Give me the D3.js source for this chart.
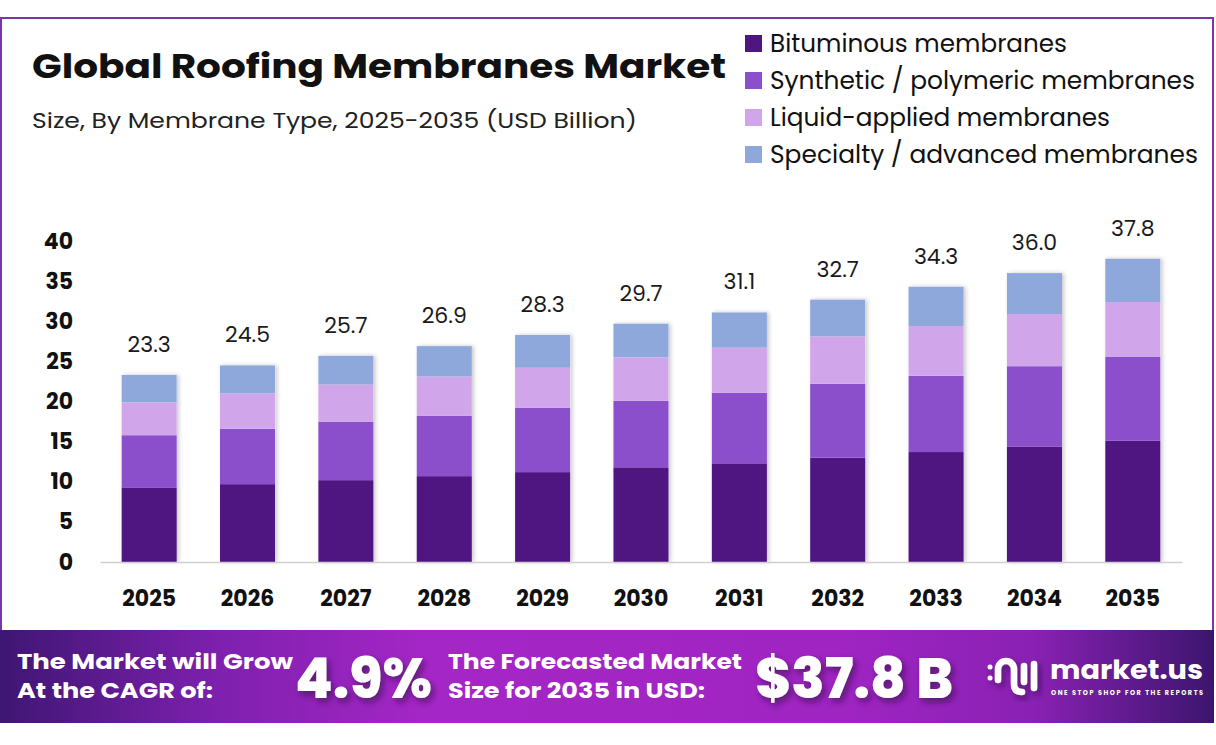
<!DOCTYPE html>
<html>
<head>
<meta charset="utf-8">
<script src="https://cdn.jsdelivr.net/npm/d3@7"></script>
<style>
  html, body { margin: 0; padding: 0; background: #fff; }
  svg { display: block; font-family: Poppins, Inter, "Open Sans", sans-serif; }
</style>
</head>
<body>
<div id="chart"></div>
<script>
// chart values
const years = ['2025', '2026', '2027', '2028', '2029', '2030', '2031', '2032', '2033', '2034', '2035'];
const bituminous = [9.3, 9.7, 10.2, 10.7, 11.2, 11.8, 12.3, 13.0, 13.7, 14.4, 15.1];
const synthetic = [6.5, 6.9, 7.3, 7.5, 8.0, 8.3, 8.8, 9.2, 9.5, 10.0, 10.5];
const liquid = [4.1, 4.4, 4.6, 4.9, 5.0, 5.4, 5.6, 5.9, 6.2, 6.5, 6.8];
const specialty = [3.4, 3.5, 3.6, 3.8, 4.1, 4.2, 4.4, 4.6, 4.9, 5.1, 5.4];
const totals = [23.3, 24.5, 25.7, 26.9, 28.3, 29.7, 31.1, 32.7, 34.3, 36.0, 37.8];
const seriesNames = ['Bituminous membranes', 'Synthetic / polymeric membranes', 'Liquid-applied membranes', 'Specialty / advanced membranes'];
const yTicks = [0, 5, 10, 15, 20, 25, 30, 35, 40];

const colors = ['#4f1580', '#8b4fcc', '#d1a5e9', '#8fa8db'];
const keys = ['bit', 'syn', 'liq', 'spe'];

const width = 1216, height = 745;

const svg = d3.select('#chart')
  .append('svg')
    .attr('width', width)
    .attr('height', height);

const defs = svg.append('defs');

const grad = defs.append('linearGradient')
  .attr('id', 'banner')
  .attr('x1', '0%').attr('x2', '100%').attr('y1', '0%').attr('y2', '0%');
[[0, '#3e1673'], [0.18, '#7e20ae'], [0.35, '#a526c6'], [0.7, '#9f24c2'], [0.85, '#8a21b4'], [1, '#3c156e']]
  .forEach(([o, c]) => grad.append('stop').attr('offset', o).attr('stop-color', c));

defs.append('filter')
  .attr('id', 'barShadow')
  .attr('x', '-20%').attr('width', '140%')
  .append('feDropShadow')
    .attr('dx', 2).attr('dy', 0).attr('stdDeviation', 2)
    .attr('flood-color', '#000').attr('flood-opacity', 0.22);

defs.append('filter')
  .attr('id', 'textShadow')
  .attr('x', '-10%').attr('width', '130%').attr('y', '-20%').attr('height', '150%')
  .append('feDropShadow')
    .attr('dx', 3).attr('dy', 4).attr('stdDeviation', 3)
    .attr('flood-color', '#2a0a40').attr('flood-opacity', 0.6);

// frame
svg.append('rect')
  .attr('x', 1).attr('y', 18)
  .attr('width', 1212).attr('height', 620)
  .attr('fill', '#fff')
  .attr('stroke', '#7c35a8')
  .attr('stroke-width', 2);

// title
svg.append('text')
  .attr('x', 32).attr('y', 78)
  .attr('font-size', 34).attr('font-weight', 700)
  .attr('fill', '#111')
  .attr('textLength', 694).attr('lengthAdjust', 'spacingAndGlyphs')
  .text('Global Roofing Membranes Market');

svg.append('text')
  .attr('x', 32).attr('y', 128)
  .attr('font-size', 22)
  .attr('fill', '#222')
  .attr('textLength', 605).attr('lengthAdjust', 'spacingAndGlyphs')
  .text('Size, By Membrane Type, 2025-2035 (USD Billion)');

// legend
const legendWidths = [297, 425, 340, 428];
const legend = svg.append('g');
seriesNames.forEach((name, i) => {
  const yb = 52 + i * 37;
  legend.append('rect')
    .attr('x', 745).attr('y', yb - 17)
    .attr('width', 17).attr('height', 17)
    .attr('fill', colors[i]);
  legend.append('text')
    .attr('x', 770).attr('y', yb)
    .attr('font-size', 24)
    .attr('fill', '#111')
    .attr('textLength', legendWidths[i]).attr('lengthAdjust', 'spacingAndGlyphs')
    .text(name);
});

// scales
const x = d3.scaleBand()
  .domain(years)
  .range([100, 1182])
  .paddingInner(0.44)
  .paddingOuter(0.22);

const y = d3.scaleLinear()
  .domain([0, 40])
  .range([562, 241]);

const rows = years.map((yr, i) => ({
  year: yr, bit: bituminous[i], syn: synthetic[i], liq: liquid[i], spe: specialty[i], total: totals[i]
}));

const stacked = d3.stack().keys(keys)(rows);

const barsG = svg.append('g');
rows.forEach((r, i) => {
  barsG.append('rect')
    .attr('x', x(r.year))
    .attr('y', y(stacked[3][i][1]))
    .attr('width', x.bandwidth())
    .attr('height', y(0) - y(stacked[3][i][1]))
    .attr('fill', '#fff')
    .attr('filter', 'url(#barShadow)');
});

barsG.selectAll('g.layer')
  .data(stacked)
  .join('g')
    .attr('class', 'layer')
    .attr('fill', (d, i) => colors[i])
  .selectAll('rect')
  .data(d => d)
  .join('rect')
    .attr('x', d => x(d.data.year))
    .attr('y', d => y(d[1]))
    .attr('width', x.bandwidth())
    .attr('height', d => y(d[0]) - y(d[1]));

// value labels
svg.append('g')
  .selectAll('text')
  .data(rows)
  .join('text')
    .attr('x', d => x(d.year) + x.bandwidth() / 2)
    .attr('y', d => y(d.total) - 23)
    .attr('text-anchor', 'middle')
    .attr('font-size', 22)
    .attr('fill', '#1a1a1a')
    .text(d => d.total.toFixed(1));

// axes
const yAxis = svg.append('g')
  .attr('transform', 'translate(76,0)')
  .call(d3.axisLeft(y).tickValues(yTicks).tickSize(0).tickPadding(3));
yAxis.select('.domain').remove();
yAxis.selectAll('text')
  .attr('font-size', 22).attr('font-weight', 700)
  .attr('font-family', 'Poppins, Inter, sans-serif')
  .attr('fill', '#111');

const xAxis = svg.append('g')
  .attr('transform', 'translate(0,562)')
  .call(d3.axisBottom(x).tickSize(0).tickSizeOuter(0).tickPadding(28));
xAxis.select('.domain').attr('stroke', '#d0d0d0').attr('stroke-width', 1.5);
xAxis.selectAll('text')
  .attr('font-size', 22).attr('font-weight', 700)
  .attr('font-family', 'Poppins, Inter, sans-serif')
  .attr('fill', '#111');

// banner
svg.append('rect')
  .attr('x', 0).attr('y', 630)
  .attr('width', 1214).attr('height', 93)
  .attr('fill', 'url(#banner)');

const banner = svg.append('g').attr('fill', '#fff').attr('font-weight', 700);

const bannerText = [
  { t: 'The Market will Grow', x: 17, y: 669, s: 20.5, w: 276 },
  { t: 'At the CAGR of:', x: 17, y: 698, s: 20.5, w: 196 },
  { t: 'The Forecasted Market', x: 448, y: 669, s: 20.5, w: 294 },
  { t: 'Size for 2035 in USD:', x: 448, y: 698, s: 20.5, w: 257 }
];
bannerText.forEach(b => {
  banner.append('text')
    .attr('x', b.x).attr('y', b.y)
    .attr('font-size', b.s)
    .attr('textLength', b.w).attr('lengthAdjust', 'spacingAndGlyphs')
    .text(b.t);
});

[{ t: '4.9%', x: 295, w: 137 }, { t: '$37.8 B', x: 755, w: 198 }].forEach(b => {
  banner.append('text')
    .attr('x', b.x).attr('y', 698)
    .attr('font-size', 56)
    .attr('font-weight', 800)
    .attr('filter', 'url(#textShadow)')
    .attr('textLength', b.w).attr('lengthAdjust', 'spacingAndGlyphs')
    .text(b.t);
});

// logo
const logo = svg.append('g')
  .attr('fill', 'none')
  .attr('stroke', '#fff')
  .attr('stroke-width', 6.5)
  .attr('stroke-linecap', 'round')
  .attr('filter', 'url(#textShadow)');
logo.append('circle').attr('cx', 990).attr('cy', 667).attr('r', 2.5).attr('fill', '#fff').attr('stroke', 'none');
logo.append('circle').attr('cx', 990).attr('cy', 678).attr('r', 2.5).attr('fill', '#fff').attr('stroke', 'none');
logo.append('path').attr('d', 'M998,680 L998,669 A8,8 0 0 1 1014,669 L1014,684 Q1014,692 1022,692');
logo.append('path').attr('d', 'M1024,666 L1024,682');
logo.append('path').attr('d', 'M1034,664 L1034,688');

svg.append('text')
  .attr('x', 1050).attr('y', 679)
  .attr('font-size', 26).attr('font-weight', 700)
  .attr('fill', '#fff')
  .attr('textLength', 153).attr('lengthAdjust', 'spacingAndGlyphs')
  .text('market.us');

svg.append('text')
  .attr('x', 1051).attr('y', 695)
  .attr('font-size', 6.5).attr('font-weight', 700)
  .attr('fill', '#fff')
  .attr('textLength', 152).attr('lengthAdjust', 'spacing')
  .text('ONE STOP SHOP FOR THE REPORTS');
</script>
</body>
</html>
